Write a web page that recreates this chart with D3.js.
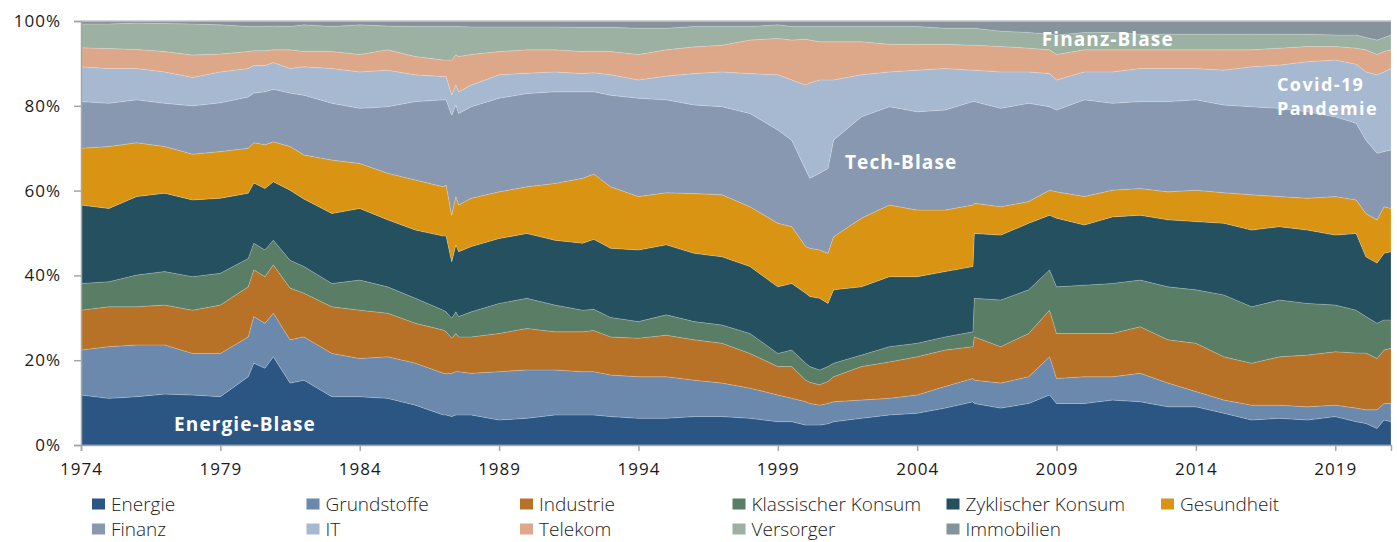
<!DOCTYPE html>
<html><head><meta charset="utf-8">
<script src="https://cdn.jsdelivr.net/npm/d3@7"></script>
<style>
body{margin:0;background:#fff;}
svg text{font-family:"Open Sans",sans-serif;}
</style></head>
<body>
<svg id="chart" width="1397" height="542"></svg>
<script>
const years = [1974, 1975, 1976, 1977, 1978, 1979, 1980, 1980.2, 1980.6, 1980.9, 1981.5, 1982, 1983, 1984, 1985, 1986, 1987, 1987.1, 1987.3, 1987.45, 1987.55, 1988, 1989, 1990, 1991, 1992, 1992.4, 1993, 1994, 1995, 1996, 1997, 1998, 1999, 1999.5, 2000, 2000.15, 2000.5, 2000.8, 2001, 2002, 2003, 2004, 2005, 2006, 2006.05, 2007, 2008, 2008.75, 2009, 2010, 2011, 2012, 2013, 2014, 2015, 2016, 2017, 2018, 2019, 2019.75, 2020.1, 2020.5, 2020.75, 2021];

const energie = [11.8, 11.0, 11.4, 12.0, 11.8, 11.4, 16.1, 19.3, 18.1, 20.8, 14.6, 15.3, 11.4, 11.4, 11.0, 9.4, 7.1, 7.1, 6.7, 7.1, 7.1, 7.1, 5.9, 6.3, 7.1, 7.1, 7.1, 6.7, 6.3, 6.3, 6.7, 6.7, 6.3, 5.5, 5.5, 4.7, 4.7, 4.7, 5.0, 5.5, 6.3, 7.1, 7.5, 8.7, 10.2, 9.8, 8.7, 9.8, 11.8, 9.8, 9.8, 10.6, 10.2, 9.0, 9.0, 7.5, 5.9, 6.3, 5.9, 6.7, 5.5, 5.1, 3.9, 5.9, 5.5];
const grundstoffe = [10.6, 12.2, 12.2, 11.6, 9.8, 10.2, 9.4, 11.0, 10.6, 10.3, 10.2, 10.2, 10.2, 9.0, 9.8, 9.9, 9.8, 9.8, 10.2, 10.2, 10.2, 9.8, 11.4, 11.4, 10.6, 10.2, 10.2, 9.8, 9.8, 9.8, 8.6, 7.9, 7.1, 6.3, 5.5, 5.5, 5.1, 4.7, 4.8, 4.7, 4.3, 3.9, 4.3, 5.1, 5.5, 5.5, 5.9, 6.3, 9.0, 5.9, 6.3, 5.5, 6.7, 5.6, 3.6, 3.1, 3.5, 3.1, 3.1, 2.7, 3.2, 3.2, 4.4, 3.9, 4.3];
const industrie = [9.4, 9.4, 9.0, 9.4, 10.2, 11.4, 11.8, 11.0, 11.0, 11.4, 12.2, 10.3, 11.0, 11.4, 10.3, 9.4, 10.2, 9.8, 8.3, 9.0, 8.2, 8.6, 9.0, 9.8, 9.0, 9.4, 9.7, 9.0, 9.1, 9.8, 9.5, 9.4, 8.2, 6.7, 7.5, 5.1, 5.0, 4.8, 5.2, 5.9, 7.9, 8.6, 9.0, 8.6, 7.5, 10.2, 8.6, 10.2, 11.0, 10.6, 10.2, 10.2, 11.0, 10.2, 11.4, 10.2, 9.9, 11.4, 12.2, 12.6, 13.0, 13.4, 12.1, 12.6, 13.0];
const klassKonsum = [6.3, 5.9, 7.5, 7.9, 7.9, 7.5, 6.7, 6.3, 6.3, 5.8, 6.6, 6.3, 5.5, 7.1, 6.2, 5.9, 4.7, 4.7, 4.7, 5.1, 4.8, 5.9, 7.1, 7.1, 6.3, 5.1, 5.0, 4.6, 3.9, 4.8, 4.3, 4.3, 4.7, 3.1, 3.9, 4.0, 3.7, 3.5, 3.5, 3.2, 2.7, 3.6, 3.2, 3.1, 3.5, 9.1, 11.0, 10.3, 9.5, 11.0, 11.4, 11.8, 11.0, 12.5, 12.6, 14.6, 13.3, 13.4, 12.2, 11.0, 10.1, 8.6, 8.3, 7.1, 6.7];
const zyklKonsum = [18.5, 17.3, 18.5, 18.5, 18.1, 17.7, 15.4, 14.2, 14.5, 13.8, 16.5, 15.9, 16.5, 16.9, 15.8, 16.1, 17.5, 17.9, 13.3, 15.8, 15.3, 15.4, 15.3, 15.3, 15.3, 15.8, 16.5, 16.3, 16.9, 16.5, 16.1, 16.1, 15.8, 15.7, 15.7, 16.5, 16.5, 16.9, 14.9, 17.3, 16.1, 16.5, 15.7, 15.4, 15.4, 15.3, 15.3, 15.7, 12.9, 16.2, 14.2, 15.7, 15.3, 15.8, 16.1, 16.9, 18.1, 17.3, 17.3, 16.5, 18.1, 14.1, 14.2, 15.7, 16.1];
const gesundheit = [13.4, 14.6, 12.7, 11.0, 10.8, 11.0, 10.6, 9.5, 10.3, 9.4, 10.3, 10.4, 12.6, 10.6, 11.0, 11.8, 11.6, 12.0, 11.0, 11.4, 11.0, 11.4, 11.0, 11.0, 13.4, 15.3, 15.4, 14.5, 12.6, 12.3, 14.1, 14.6, 14.1, 15.0, 13.4, 11.0, 11.4, 11.4, 11.8, 12.5, 16.2, 16.9, 15.7, 14.5, 14.5, 7.1, 6.7, 5.1, 5.9, 6.2, 6.7, 6.3, 6.3, 6.6, 7.4, 7.2, 8.3, 7.1, 7.5, 9.1, 7.9, 10.2, 10.2, 11.0, 10.2];
const finanz = [11.0, 10.2, 10.1, 10.2, 11.4, 11.5, 12.1, 11.7, 12.5, 12.4, 12.6, 14.1, 13.4, 13.0, 15.7, 18.5, 20.5, 20.1, 23.6, 21.6, 21.6, 21.6, 22.1, 22.0, 21.6, 20.4, 19.4, 21.6, 23.2, 21.9, 20.9, 20.8, 22.0, 22.0, 20.4, 18.1, 16.5, 18.1, 20.0, 22.8, 23.9, 23.2, 23.2, 23.6, 24.4, 24.0, 23.2, 23.2, 19.7, 19.3, 22.8, 20.5, 20.5, 21.3, 21.3, 20.7, 20.8, 20.8, 20.4, 18.8, 18.1, 17.3, 15.7, 13.0, 13.8];
const it = [8.2, 8.2, 7.4, 7.4, 6.7, 7.3, 6.7, 6.5, 6.2, 6.3, 5.8, 6.7, 8.2, 8.6, 8.6, 6.3, 5.5, 5.5, 4.7, 4.7, 5.1, 5.1, 5.5, 4.8, 4.7, 4.3, 4.5, 4.8, 4.3, 5.6, 7.4, 8.2, 9.4, 13.0, 14.2, 20.0, 22.5, 22.0, 20.9, 14.2, 9.9, 8.2, 9.8, 9.8, 7.4, 7.4, 8.6, 7.4, 7.8, 7.1, 6.6, 7.4, 7.8, 7.8, 7.4, 8.2, 9.4, 10.2, 11.8, 13.4, 13.9, 16.1, 18.5, 18.8, 19.2];
const telekom = [4.5, 4.7, 4.5, 4.8, 5.3, 4.2, 4.0, 3.5, 3.5, 3.0, 4.4, 3.6, 4.0, 4.1, 4.8, 4.3, 3.9, 3.9, 8.3, 7.1, 8.3, 7.2, 5.5, 5.5, 5.2, 5.2, 5.0, 5.5, 6.0, 6.2, 6.3, 6.3, 7.9, 8.6, 9.4, 10.8, 10.1, 9.0, 9.0, 9.0, 7.8, 6.5, 6.1, 5.7, 5.9, 5.9, 6.0, 5.6, 5.6, 6.0, 5.2, 5.2, 4.4, 4.4, 4.4, 4.8, 4.0, 4.0, 3.6, 3.2, 3.8, 5.2, 4.8, 4.8, 4.4];
const versorger = [5.6, 5.8, 6.2, 6.6, 7.3, 6.9, 5.9, 5.7, 5.7, 5.6, 5.5, 6.3, 5.9, 7.0, 5.6, 7.1, 7.9, 7.9, 7.9, 6.7, 7.1, 6.5, 5.8, 5.4, 5.4, 5.7, 5.7, 5.7, 6.2, 5.1, 4.8, 4.4, 3.2, 3.2, 3.2, 3.0, 3.2, 3.6, 3.6, 3.6, 3.6, 4.2, 4.2, 3.8, 4.0, 4.0, 3.6, 3.7, 3.7, 4.6, 4.1, 4.1, 3.7, 3.7, 3.7, 3.7, 3.7, 3.3, 2.9, 2.7, 3.1, 2.9, 3.4, 3.3, 3.5];
const immobilien = [0.7, 0.7, 0.5, 0.6, 0.7, 0.9, 1.3, 1.3, 1.3, 1.2, 1.3, 0.9, 1.3, 0.9, 1.2, 1.3, 1.3, 1.3, 1.3, 1.3, 1.3, 1.4, 1.4, 1.4, 1.4, 1.5, 1.5, 1.5, 1.7, 1.7, 1.3, 1.3, 1.3, 0.9, 1.3, 1.3, 1.3, 1.3, 1.3, 1.3, 1.3, 1.3, 1.3, 1.7, 1.7, 1.7, 2.4, 2.7, 3.1, 3.3, 2.7, 2.7, 3.1, 3.1, 3.1, 3.1, 3.1, 3.1, 3.1, 3.3, 3.3, 3.9, 4.5, 3.9, 3.3];

const seriesNames = ["Energie", "Grundstoffe", "Industrie", "Klassischer Konsum", "Zyklischer Konsum", "Gesundheit", "Finanz", "IT", "Telekom", "Versorger", "Immobilien"];
const seriesValues = [energie, grundstoffe, industrie, klassKonsum, zyklKonsum, gesundheit, finanz, it, telekom, versorger, immobilien];
const seriesColors = ["#2b5582", "#6a89ac", "#b87228", "#5a7d66", "#25505f", "#da9414", "#8998b1", "#a7b8d1", "#dca889", "#9cb1a1", "#85939c"];
const legendOrder = ["Energie", "Grundstoffe", "Industrie", "Klassischer Konsum", "Zyklischer Konsum", "Gesundheit", "Finanz", "IT", "Telekom", "Versorger", "Immobilien"];
const xTicks = [1974, 1979, 1984, 1989, 1994, 1999, 2004, 2009, 2014, 2019];
const yTicks = [0, 0.2, 0.4, 0.6, 0.8, 1.0];
const annotations = [
  {lines: ["Energie-Blase"], x: 1977.34, y: 0.033, size: 19},
  {lines: ["Tech-Blase"], x: 2001.41, y: 0.650, size: 19},
  {lines: ["Finanz-Blase"], x: 2008.47, y: 0.941, size: 19},
  {lines: ["Covid-19", "Pandemie"], x: 2016.91, y: 0.834, size: 18}
];

const table = years.map((yr, i) => {
  const row = {year: yr};
  seriesNames.forEach((n, k) => row[n] = seriesValues[k][i]);
  return row;
});

const svg = d3.select("#chart");
const mLeft = 81, mRight = 1391, mTop = 21, mBottom = 445;
const x = d3.scaleLinear().domain([1974, 2021]).range([mLeft, mRight]);
const y = d3.scaleLinear().domain([0, 1]).range([mBottom, mTop]);
const color = d3.scaleOrdinal().domain(seriesNames).range(seriesColors);

const stack = d3.stack().keys(seriesNames).offset(d3.stackOffsetExpand);
const layers = stack(table);
const area = d3.area().x(d => x(d.data.year)).y0(d => y(d[0])).y1(d => y(d[1]));

svg.append("g").selectAll("path").data(layers).join("path")
  .attr("d", area)
  .attr("fill", d => color(d.key))
  .attr("stroke", "rgba(255,255,255,0.3)")
  .attr("stroke-width", 0.6);

svg.append("line").attr("x1", mLeft).attr("x2", mRight).attr("y1", y(1)).attr("y2", y(1))
  .attr("stroke", "#c4c4c4").attr("stroke-width", 1.5);

const yAxis = d3.axisLeft(y).tickValues(yTicks).tickFormat(d3.format(".0%")).tickSize(7).tickPadding(13);
const gy = svg.append("g").attr("transform", `translate(${mLeft},0)`).call(yAxis);
const xAxis = d3.axisBottom(x).tickValues(xTicks).tickFormat(d3.format("d")).tickSize(6).tickPadding(12);
const gx = svg.append("g").attr("transform", `translate(0,${mBottom})`).call(xAxis);
[gy, gx].forEach(g => {
  g.select(".domain").attr("stroke", "#a6a6a6").attr("stroke-width", 1.5);
  g.selectAll(".tick line").attr("stroke", "#a6a6a6").attr("stroke-width", 1.5);
  g.selectAll("text").attr("fill", "#1a1a1a").style("font-size", "17px")
    .style("letter-spacing", "1px").style("font-family", "'Open Sans', sans-serif");
});

const ann = svg.append("g").selectAll("text").data(annotations).join("text")
  .attr("x", d => x(d.x)).attr("y", d => y(d.y))
  .attr("text-anchor", "start")
  .attr("fill", "#fff").style("font-size", d => d.size + "px").style("font-weight", "700")
  .style("letter-spacing", d => d.size === 19 ? "1.1px" : "1.4px");
ann.selectAll("tspan").data(d => d.lines.map((t, i) => ({t, i, x: x(d.x)}))).join("tspan")
  .attr("x", d => d.x).attr("dy", d => d.i === 0 ? 0 : 24).text(d => d.t);

const colX = [92, 306.5, 520, 732.5, 946.5, 1161];
const legend = svg.append("g").selectAll("g").data(legendOrder).join("g")
  .attr("transform", (d, i) => `translate(${colX[i % 6]},${i < 6 ? 504 : 529})`);
legend.append("rect").attr("x", 0).attr("y", -5.5).attr("width", 13).attr("height", 11).attr("fill", d => color(d));
legend.append("text").attr("x", 19).attr("y", 0).attr("dominant-baseline", "central")
  .attr("fill", "#222").style("font-size", "19px").style("font-weight", "300").text(d => d);
</script>
</body></html>
